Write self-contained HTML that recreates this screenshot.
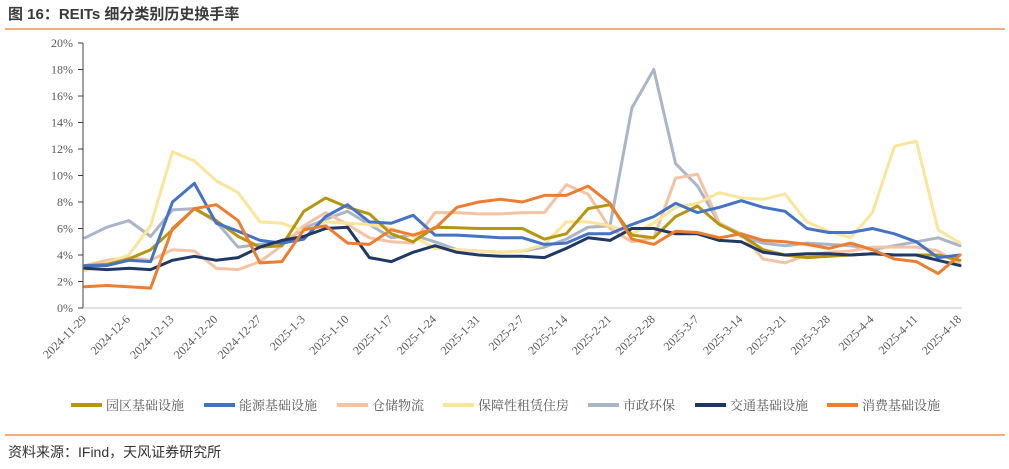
<!DOCTYPE html>
<html><head><meta charset="utf-8"><style>
body{margin:0;background:#fff;width:1009px;height:464px;overflow:hidden;font-family:"Liberation Sans","Noto Sans CJK SC",sans-serif}
</style></head><body>
<svg id="chart" width="1009" height="464" xmlns="http://www.w3.org/2000/svg">
<text x="8" y="19" font-size="15" font-weight="bold" fill="#3a3a3a" font-family="Liberation Sans, Noto Sans CJK SC, sans-serif">图 16：REITs 细分类别历史换手率</text>
<line x1="5" y1="29" x2="1005" y2="29" stroke="#ed7d31" stroke-width="1.2"/>
<line x1="5" y1="435" x2="1005" y2="435" stroke="#ed7d31" stroke-width="1.2"/>
<text x="8" y="457" font-size="14" fill="#333" font-family="Liberation Sans, Noto Sans CJK SC, sans-serif">资料来源：IFind，天风证券研究所</text>
<g id="axes"></g><g id="series"></g><g id="legend"></g>
</svg>
<script>
const xLabels=["2024-11-29","2024-12-6","2024-12-13","2024-12-20","2024-12-27","2025-1-3","2025-1-10","2025-1-17","2025-1-24","2025-1-31","2025-2-7","2025-2-14","2025-2-21","2025-2-28","2025-3-7","2025-3-14","2025-3-21","2025-3-28","2025-4-4","2025-4-11","2025-4-18"];
const yTicks=[0,2,4,6,8,10,12,14,16,18,20];
const seriesNames=["园区基础设施","能源基础设施","仓储物流","保障性租赁住房","市政环保","交通基础设施","消费基础设施"];
const seriesColors=["#b8950f","#4472c4","#f4c3a5","#fae59a","#aab5c8","#1f3864","#ed7d31"];
const sGold=[3.2,3.3,3.7,4.4,5.9,7.5,6.6,5.4,4.6,4.7,7.3,8.3,7.6,7.1,5.6,5.0,6.1,6.05,6.0,6.0,6.0,5.2,5.6,7.5,7.8,5.5,5.3,6.9,7.7,6.3,5.5,4.4,4.0,3.8,3.9,4.0,4.1,4.0,4.0,4.0,3.6];
const sBlue=[3.2,3.2,3.6,3.5,8.0,9.4,6.4,5.8,5.1,4.9,5.2,6.9,7.8,6.5,6.4,7.0,5.5,5.5,5.4,5.3,5.3,4.8,4.9,5.6,5.6,6.3,6.9,7.9,7.2,7.6,8.1,7.6,7.3,6.0,5.7,5.7,6.0,5.6,5.0,3.8,4.0];
const sPink=[3.2,3.6,3.8,3.6,4.4,4.3,3.0,2.9,3.5,4.7,6.2,7.2,6.3,5.3,5.0,4.9,7.2,7.2,7.1,7.1,7.2,7.2,9.3,8.6,6.0,5.0,5.3,9.8,10.1,6.4,5.6,3.7,3.4,4.0,4.2,4.3,4.6,4.6,4.6,4.3,3.3];
const sYellow=[2.8,3.4,4.0,6.2,11.8,11.1,9.6,8.7,6.5,6.4,5.8,6.5,6.4,6.3,6.0,5.4,4.5,4.4,4.3,4.2,4.3,4.8,6.5,6.5,6.2,5.6,6.4,7.6,7.9,8.7,8.3,8.2,8.6,6.5,5.8,5.3,7.2,12.2,12.6,5.9,4.9];
const sGrey=[5.3,6.1,6.6,5.4,7.4,7.5,6.5,4.6,4.8,4.9,6.0,6.7,7.3,6.3,5.3,5.5,5.0,4.4,4.3,4.2,4.3,4.6,5.2,6.1,6.2,15.1,18.0,10.9,9.2,6.4,5.4,4.9,4.7,4.9,4.8,4.7,4.4,4.7,5.0,5.3,4.7];
const sNavy=[3.0,2.9,3.0,2.9,3.6,3.9,3.6,3.8,4.6,5.1,5.4,6.0,6.1,3.8,3.5,4.2,4.7,4.2,4.0,3.9,3.9,3.8,4.5,5.3,5.1,6.0,6.0,5.6,5.6,5.1,5.0,4.2,4.0,4.1,4.1,4.0,4.1,4.0,4.0,3.6,3.2];
const sOrange=[1.6,1.7,1.6,1.5,6.0,7.5,7.8,6.6,3.4,3.5,5.9,6.2,4.9,4.8,5.9,5.5,6.0,7.6,8.0,8.2,8.0,8.5,8.5,9.2,7.9,5.2,4.8,5.8,5.7,5.3,5.6,5.1,5.0,4.8,4.5,4.9,4.4,3.7,3.5,2.6,4.0];
const allSeries=[sGold,sBlue,sPink,sYellow,sGrey,sNavy,sOrange];
const ns="http://www.w3.org/2000/svg";
const X0=85,X1=960,Y0=308,Y20=43;
function xScale(i,n){return X0+(X1-X0)*i/(n-1);}
function yScale(v){return Y0-(Y0-Y20)*v/20;}
function mk(t,a){const e=document.createElementNS(ns,t);for(const k in a)e.setAttribute(k,a[k]);return e;}
const axes=document.getElementById('axes');
let ax=mk('line',{x1:83,y1:Y20,x2:83,y2:Y0,stroke:'#404040','stroke-width':1});


axes.appendChild(ax);
let bx=mk('line',{x1:83,y1:Y0,x2:962,y2:Y0,stroke:'#c8c8c8','stroke-width':1});


axes.appendChild(bx);
yTicks.forEach(v=>{
  const y=yScale(v);
  const tk=mk('line',{x1:78,y1:y,x2:83,y2:y,stroke:'#404040'});
  
  
  axes.appendChild(tk);
  const t=mk('text',{x:73,y:y+4,'text-anchor':'end','font-size':12,fill:'#595959','font-family':'Liberation Serif, serif'});
  t.textContent=v+'%';
  
  
  axes.appendChild(t);
});
xLabels.forEach((l,i)=>{
  const x=xScale(i,xLabels.length)+2,y=320;
  const t=mk('text',{x:x,y:y,'text-anchor':'end','font-size':12,fill:'#595959','font-family':'Liberation Serif, serif',transform:`rotate(-45 ${x} ${y})`});
  t.textContent=l;
  
  
  axes.appendChild(t);
});
const sg=document.getElementById('series');
const order=[4,2,3,0,1,5,6];
order.forEach(k=>{
  const d=allSeries[k];
  const pts=d.map((v,i)=>xScale(i,d.length).toFixed(1)+','+yScale(v).toFixed(1)).join(' ');
  const p=mk('polyline',{points:pts,fill:'none',stroke:seriesColors[k],'stroke-width':3,'stroke-linejoin':'round','stroke-linecap':'round'});
  
  
  sg.appendChild(p);
});
const lg=document.getElementById('legend');
const lx=[71,204,337,443,588,695,827];
seriesNames.forEach((n,k)=>{
  const g=mk('g',{});
  
  
  g.appendChild(mk('line',{x1:lx[k],y1:405,x2:lx[k]+31,y2:405,stroke:seriesColors[k],'stroke-width':4}));
  const t=mk('text',{x:lx[k]+35,y:410,'font-size':13,fill:'#595959','font-family':'Liberation Serif, Noto Serif CJK SC, serif'});
  t.textContent=n;
  g.appendChild(t);
  lg.appendChild(g);
});
</script>
</body></html>
